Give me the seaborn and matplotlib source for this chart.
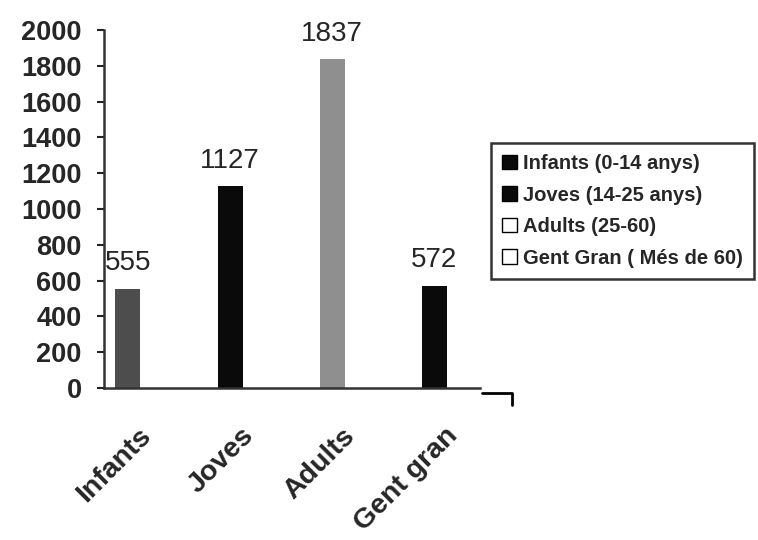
import numpy as np
import seaborn as sns
from matplotlib import pyplot as plt
from matplotlib.patches import Patch
from matplotlib.lines import Line2D

# Data
categories = ['Infants', 'Joves', 'Adults', 'Gent gran']
values = [555, 1127, 1837, 572]
legend_labels = ['Infants (0-14 anys)', 'Joves (14-25 anys)',
                 'Adults (25-60)', 'Gent Gran ( Més de 60)']
yticks = list(range(0, 2001, 200))

bar_colors = ['#4d4d4d', '#0a0a0a', '#8f8f8f', '#0a0a0a']
legend_colors = ['#0a0a0a', '#0a0a0a', 'white', 'white']

sns.set_style('white')
plt.rcParams['font.family'] = ['Liberation Sans', 'DejaVu Sans']
plt.rcParams['font.weight'] = 'bold'

fig = plt.figure(figsize=(7.58, 5.40), dpi=100)
ax = fig.add_axes([104 / 758, 1 - 388 / 540, (480 - 104) / 758, (388 - 30) / 540])

sns.barplot(x=categories, y=values, hue=categories, palette=bar_colors,
            width=0.245, legend=False, ax=ax, saturation=1, linewidth=0)

ax.set_ylim(0, 2000)
ax.set_xlim(-0.235, 3.45)
ax.set_yticks(yticks)
ax.set_yticklabels([str(v) for v in yticks], fontsize=19.5, fontweight='bold')

# category labels, rotated, sitting under each bar
pos = np.arange(len(categories))
ax.set_xticks(pos + 0.1)
ax.set_xticklabels(categories, rotation=45, ha='right', va='top',
                   rotation_mode='anchor', fontsize=20.5, fontweight='bold')
ax.tick_params(axis='x', which='major', length=0, pad=25)
ax.set_xticks(pos - 0.225, minor=True)
ax.tick_params(axis='x', which='minor', length=7, width=1.5,
               direction='out', color='#222222')
ax.tick_params(axis='y', length=5, width=1.5, direction='out',
               color='#222222', pad=11, left=True)
ax.set_xlabel('')
ax.set_ylabel('')

for s in ['top', 'right']:
    ax.spines[s].set_visible(False)
for s in ['left', 'bottom']:
    ax.spines[s].set_linewidth(1.8)
    ax.spines[s].set_color('#333333')

for cont in ax.containers:
    ax.bar_label(cont, padding=9, fontsize=20, fontweight='normal')

# small stray corner beyond the axis end
ax.add_line(Line2D([1.005, 1.085, 1.085], [-0.014, -0.014, -0.047],
                   transform=ax.transAxes, color='black', lw=2,
                   clip_on=False))

handles = [Patch(facecolor=c, edgecolor='black', linewidth=1) for c in legend_colors]
leg = fig.legend(handles, legend_labels, loc='upper left',
                 bbox_to_anchor=(491 / 758, 1 - 143 / 540),
                 prop={'size': 14.5, 'weight': 'bold'},
                 frameon=True, fancybox=False, edgecolor='black',
                 handlelength=0.75, handleheight=0.75, handletextpad=0.3,
                 labelspacing=0.62, borderpad=0.55, borderaxespad=0)
leg.get_frame().set_linewidth(1.8)

fig.savefig('out.png', dpi=100)
